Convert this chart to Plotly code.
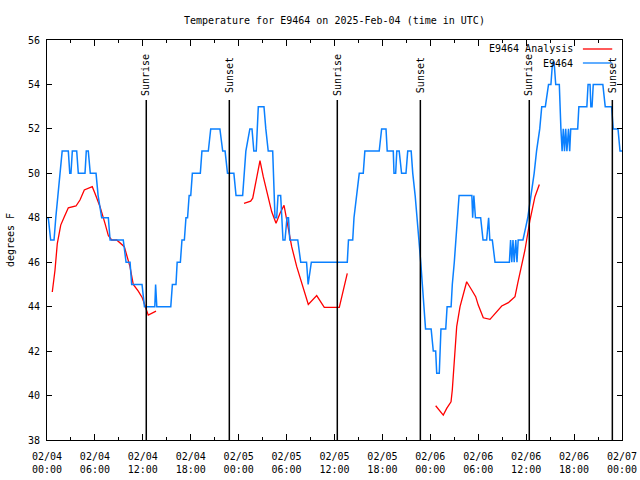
import pandas as pd
import plotly.graph_objects as go

# ---------------- data ----------------
START = "2025-02-04 00:00"
TITLE = "Temperature for E9464 on 2025-Feb-04 (time in UTC)"

# Station observations (hours after start, degrees F)
obs_hours = [0.0, 0.16, 0.46, 0.88, 1.1, 1.35, 1.6, 1.9, 2.67, 2.85, 3.0, 3.17, 3.72, 3.92,
             4.76, 4.92, 5.17, 5.42, 6.14, 6.4, 6.85, 7.68, 7.9, 9.55, 9.9, 10.4, 10.6, 11.9,
             12.2, 13.5, 13.6, 13.75, 15.5, 15.7, 16.15, 16.3, 16.7, 16.9, 17.2, 17.4, 17.6,
             17.8, 18.0, 18.2, 19.2, 19.4, 20.2, 20.5, 21.65, 22.0, 22.3, 22.6, 23.4, 23.67,
             24.5, 24.67, 24.9, 25.4, 25.67, 25.9, 26.2, 26.46, 27.17, 27.4, 27.7, 28.26,
             28.55, 28.76, 28.93, 29.26, 29.55, 29.8, 30.05, 30.24, 30.4, 31.4, 31.77, 32.5,
             32.7, 33.1, 37.6, 37.75, 38.28, 38.44, 38.78, 39.1, 39.6, 39.8, 41.6, 41.9, 42.45,
             42.6, 43.36, 43.45, 43.66, 43.8, 44.1, 44.4, 44.95, 45.17, 45.6, 45.8, 46.1,
             46.35, 46.6, 46.8, 47.0, 47.2, 47.4, 48.1, 48.37, 48.67, 48.8, 49.12, 49.33,
             49.93, 50.1, 50.6, 50.75, 51.0, 51.2, 51.35, 51.6, 53.2, 53.3, 53.45, 53.65,
             54.3, 54.6, 55.05, 55.3, 55.45, 55.76, 56.1, 57.9, 58.05, 58.2, 58.35, 58.5,
             58.7, 58.85, 59.0, 59.6, 59.9, 60.2, 60.6, 61.0, 61.3, 61.7, 61.95, 62.4, 62.8,
             63.1, 63.3, 63.5, 63.7, 64.15, 64.35, 64.5, 64.65, 64.8, 64.95, 65.1, 65.3,
             65.45, 65.58, 66.45, 66.6, 67.6, 67.75, 68.0, 68.1, 68.25, 68.4, 69.6, 69.9,
             70.7, 70.9, 71.5, 71.75, 72.0]
obs_temps = [48, 48, 47, 47, 48, 49, 50, 51, 51, 50, 50, 51, 51, 50,
             50, 51, 51, 50, 50, 49, 48, 48, 47, 47, 46, 46, 45, 45,
             44, 44, 45, 44, 44, 45, 45, 46, 46, 47, 47, 48, 48,
             49, 49, 50, 50, 51, 51, 52, 52, 51, 51, 50, 50, 49,
             49, 50, 51, 52, 52, 51, 51, 53, 53, 52, 51, 51,
             48, 48, 49, 49, 47, 47, 48, 48, 47, 47, 46, 46,
             45, 46, 46, 47, 47, 48, 49, 50, 50, 51, 51, 52, 52,
             51, 51, 50, 50, 51, 51, 50, 50, 51, 51, 50, 49,
             48, 47, 46, 45, 44, 43, 43, 42, 42, 41, 41, 43,
             43, 44, 44, 45, 46, 47, 48, 49, 49, 48, 49, 48,
             48, 47, 47, 48, 47, 47, 46, 46, 47, 46, 47, 46,
             47, 46, 47, 47, 47.5, 48, 49, 50, 51, 52, 53, 53, 54,
             54, 55, 55, 54, 54, 52, 51, 52, 51, 52, 51, 52,
             51, 52, 52, 53, 53, 54, 54, 53, 53, 54, 54, 53,
             53, 52, 52, 51, 51]

# Analysis segments (hours after start, degrees F)
ana1_hours = [0.66, 1.0, 1.29, 1.72, 2.17, 2.67, 3.63, 4.13, 4.67, 5.67, 6.0, 6.64, 7.26,
              7.68, 8.1, 8.73, 9.68, 9.98, 10.39, 10.8, 11.43, 11.93, 12.27, 12.68, 13.65]
ana1_temps = [44.66, 45.64, 46.84, 47.67, 48.05, 48.45, 48.53, 48.8, 49.25, 49.4, 49.1, 48.5,
              47.75, 47.2, 47.0, 47.0, 46.7, 46.3, 45.8, 45.0, 44.7, 44.4, 44.0, 43.62, 43.8]
ana2_hours = [24.67, 25.5, 25.76, 26.67, 27.08, 27.64, 28.14, 28.68, 29.18, 29.68, 30.0,
              30.34, 30.64, 31.27, 31.9, 32.72, 33.77, 34.72, 36.6, 37.6]
ana2_temps = [48.65, 48.75, 48.88, 50.57, 49.85, 48.95, 48.27, 47.75, 48.2, 48.56, 47.9,
              47.3, 46.7, 45.8, 45.05, 44.1, 44.5, 43.97, 43.97, 45.5]
ana3_hours = [48.67, 49.62, 50.05, 50.59, 50.75, 51.0, 51.3, 51.72, 52.13, 52.55, 53.18,
              53.68, 54.0, 54.63, 55.47, 56.1, 56.94, 57.77, 58.6, 58.94, 59.35, 59.85,
              60.48, 61.1, 61.65]
ana3_temps = [39.54, 39.12, 39.42, 39.72, 40.25, 41.6, 43.1, 44.0, 44.6, 45.12, 44.75,
              44.45, 44.07, 43.5, 43.43, 43.7, 44.03, 44.18, 44.45, 45.05, 45.8, 46.55,
              47.9, 48.95, 49.5]

sun_labels = ["Sunrise", "Sunset", "Sunrise", "Sunset", "Sunrise", "Sunset"]
sun_hours = [12.43, 22.83, 36.35, 46.75, 60.39, 70.79]

y_range = [38, 56]
x_range_hours = [0, 72]
OBS_NAME = "E9464"
ANA_NAME = "E9464 Analysis"

# ---------------- helpers ----------------
base = pd.Timestamp(START)


def to_time(hours):
    return [None if h is None else base + pd.Timedelta(hours=h) for h in hours]


ana_hours = ana1_hours + [None] + ana2_hours + [None] + ana3_hours
ana_temps = ana1_temps + [None] + ana2_temps + [None] + ana3_temps

BLUE = "#0a80ff"
RED = "#ff0000"
FONT = "DejaVu Sans Mono"

fig = go.Figure()
fig.add_trace(go.Scatter(x=to_time(ana_hours), y=ana_temps, mode="lines", name=ANA_NAME,
                         line=dict(color=RED, width=1.3), connectgaps=False, showlegend=False))
fig.add_trace(go.Scatter(x=to_time(obs_hours), y=obs_temps, mode="lines", name=OBS_NAME,
                         line=dict(color=BLUE, width=1.5), showlegend=False))

# sunrise / sunset markers
for lab, h in zip(sun_labels, sun_hours):
    t = base + pd.Timedelta(hours=h)
    fig.add_shape(type="line", xref="x", yref="paper", x0=t, x1=t, y0=0, y1=0.85,
                  line=dict(color="black", width=1.5))
    fig.add_annotation(x=t, y=0.913, xref="x", yref="paper", text=lab, textangle=-90,
                       showarrow=False, font=dict(family=FONT, size=10, color="black"),
                       xanchor="center", yanchor="middle")

# gnuplot-style legend (text then sample line)
leg = [(ANA_NAME, RED, 0.9775), (OBS_NAME, BLUE, 0.9425)]
for txt, col, yy in leg:
    fig.add_annotation(x=0.919, y=yy, xref="paper", yref="paper", text=txt, showarrow=False,
                       xanchor="right", yanchor="middle",
                       font=dict(family=FONT, size=10, color="black"))
    fig.add_shape(type="line", xref="paper", yref="paper", x0=0.932, x1=0.983, y0=yy, y1=yy,
                  line=dict(color=col, width=1.3))

fig.update_layout(
    width=640, height=480,
    margin=dict(l=47, r=18, t=40, b=40, autoexpand=False),
    paper_bgcolor="white", plot_bgcolor="white",
    font=dict(family=FONT, size=10, color="black"),
    title=dict(text=TITLE, x=0.5225, xanchor="center", y=0.958, yanchor="middle",
               font=dict(family=FONT, size=10, color="black")),
    showlegend=False,
)
fig.update_xaxes(
    type="date", range=to_time(x_range_hours), automargin=False,
    tick0=START, dtick=6 * 3600 * 1000, tickformat="%m/%d<br>%H:%M",
    ticks="inside", ticklen=6, tickcolor="black", tickwidth=1, ticklabelstandoff=7,
    minor=dict(dtick=3 * 3600 * 1000, ticks="inside", ticklen=3, tickcolor="black"),
    showline=True, linecolor="black", linewidth=1, mirror="ticks",
    showgrid=False, zeroline=False, tickfont=dict(family=FONT, size=10),
)
fig.update_yaxes(
    range=y_range, dtick=2, tick0=38, automargin=False,
    ticks="inside", ticklen=5, tickcolor="black", tickwidth=1, ticklabelstandoff=4,
    showline=True, linecolor="black", linewidth=1, mirror="ticks",
    showgrid=False, zeroline=False, tickfont=dict(family=FONT, size=10),
    title=dict(text="degrees F", font=dict(family=FONT, size=10), standoff=11),
)

fig.write_html("out.html", config={"displayModeBar": False},
               post_script="document.body.style.margin='0px';document.body.style.overflow='hidden';")
